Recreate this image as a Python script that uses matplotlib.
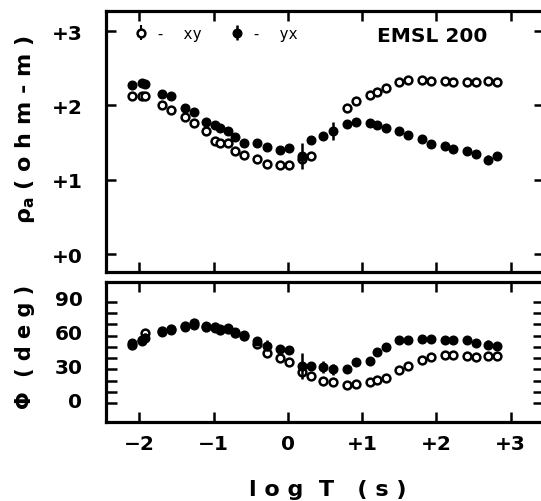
import numpy as np
import matplotlib
matplotlib.use("Agg")
import matplotlib.pyplot as plt
from matplotlib.ticker import MultipleLocator
from matplotlib.transforms import ScaledTranslation

plt.rcParams["mathtext.fontset"] = "dejavusans"
plt.rcParams["mathtext.default"] = "bf"

# log10 period (s)
log_t = [-2.10, -1.96, -1.92, -1.70, -1.58, -1.39, -1.27, -1.10, -0.98, -0.92,
         -0.81, -0.71, -0.59, -0.41, -0.28, -0.10, 0.02, 0.19, 0.31, 0.47,
         0.61, 0.80, 0.92, 1.10, 1.20, 1.32, 1.50, 1.62, 1.80, 1.93,
         2.12, 2.23, 2.41, 2.54, 2.69, 2.82]

# log10 apparent resistivity (ohm-m)
rho_xy = [2.12, 2.12, 2.12, 2.00, 1.94, 1.84, 1.76, 1.65, 1.52, 1.49,
          1.49, 1.39, 1.33, 1.28, 1.21, 1.20, 1.20, 1.28, 1.32, np.nan,
          np.nan, 1.97, 2.06, 2.14, 2.18, 2.24, 2.31, 2.34, 2.34, 2.33,
          2.33, 2.32, 2.31, 2.32, 2.33, 2.32]
rho_xy_err = [0.02] * 36
rho_yx = [2.27, 2.30, 2.29, 2.15, 2.12, 1.96, 1.91, 1.78, 1.73, 1.70,
          1.65, 1.58, 1.49, 1.49, 1.44, 1.40, 1.43, 1.32, 1.53, 1.59,
          1.66, 1.75, 1.77, 1.76, 1.73, 1.70, 1.65, 1.60, 1.55, 1.48,
          1.45, 1.41, 1.38, 1.35, 1.27, 1.32]
rho_yx_err = [0.05, 0.02, 0.02, 0.02, 0.02, 0.02, 0.02, 0.02, 0.02, 0.02,
              0.02, 0.02, 0.02, 0.02, 0.02, 0.02, 0.05, 0.18, 0.03, 0.04,
              0.12, 0.03, 0.02, 0.02, 0.02, 0.02, 0.02, 0.02, 0.02, 0.02,
              0.02, 0.02, 0.02, 0.04, 0.06, 0.02]

# impedance phase (deg)
phi_xy = [52, 56, 62, 64, 66, 69, 71, 68, 68, 65,
          66, 62, 60, 53, 45, 40, 36.5, 28, 24, 19.6,
          18.5, 16, 17, 19, 20.8, 22, 29.7, 33, 38.6, 41.3,
          42.8, 42.8, 41.6, 40.7, 41.6, 41.6]
phi_xy_err = [2] * 36
phi_yx = [53.5, 55, 58, 63, 65, 67.5, 69.5, 69, 67, 66,
          66.5, 63, 60.6, 55.5, 51, 48, 47, 33, 33, 32,
          30, 30, 36.5, 37.7, 45.7, 50, 56, 56, 57, 57,
          56, 56, 56, 53.5, 52, 51]
phi_yx_err = [3, 3, 4, 3, 3, 2, 2, 2, 2, 2,
              2, 2, 2, 3, 5, 2, 3, 12, 3, 5,
              5, 2, 2, 2, 2, 2, 2, 2, 2, 2,
              2, 2, 2, 3, 4, 2]

W, H = 541, 502
fig = plt.figure(figsize=(W / 100, H / 100), dpi=100)
ax_r = fig.add_axes([106 / W, 1 - 273 / H, 438 / W, 261 / H])
ax_p = fig.add_axes([106 / W, 1 - 423 / H, 438 / W, 140 / H])

tick_font = dict(family="DejaVu Sans", weight="bold", size=14.5)
open_kw = dict(fmt="o", ms=5.6, mfc="white", mec="black", mew=1.8,
               ecolor="black", elinewidth=1.5, capsize=0, color="black")
fill_kw = dict(fmt="o", ms=6.2, mfc="black", mec="black",
               ecolor="black", elinewidth=1.8, capsize=0, color="black")

h_xy = ax_r.errorbar(log_t, rho_xy, yerr=rho_xy_err, zorder=3, **open_kw)
h_yx = ax_r.errorbar(log_t, rho_yx, yerr=rho_yx_err, zorder=4, **fill_kw)
ax_p.errorbar(log_t, phi_xy, yerr=phi_xy_err, zorder=3, **open_kw)
ax_p.errorbar(log_t, phi_yx, yerr=phi_yx_err, zorder=4, **fill_kw)

for ax in (ax_r, ax_p):
    ax.set_xlim(-2.45, 3.45)
    ax.xaxis.set_major_locator(MultipleLocator(1))
    for s in ax.spines.values():
        s.set_linewidth(2.3)
    ax.tick_params(which="both", direction="in", top=True, right=True,
                   width=1.8, color="black")
    ax.tick_params(which="major", length=7)

ax_r.set_ylim(-0.242, 3.27)
ax_r.set_yticks([0, 1, 2, 3])
ax_r.set_yticklabels(["+0", "+1", "+2", "+3"], **tick_font)
ax_r.tick_params(axis="y", pad=17)
ax_r.tick_params(axis="x", labelbottom=False)

ax_p.set_ylim(-16.9, 107.8)
ax_p.set_yticks([0, 10, 20, 30, 40, 50, 60, 70, 80, 90])
ax_p.set_yticklabels(["0", "", "", "30", "", "", "60", "", "", "90"], **tick_font)
ax_p.tick_params(axis="y", pad=17, length=8)
# phase labels sit a little above their ticks
lift = ScaledTranslation(0, 4 / 100, fig.dpi_scale_trans)
for lab in ax_p.get_yticklabels():
    lab.set_transform(lab.get_transform() + lift)
ax_p.set_xticks([-2, -1, 0, 1, 2, 3])
ax_p.set_xticklabels(["\u22122", "\u22121", "0", "+1", "+2", "+3"], **tick_font)
ax_p.tick_params(axis="x", pad=9)

leg = ax_r.legend([h_xy, h_yx], ["-  xy", "-  yx"], ncol=2, frameon=False,
                  loc="upper left", bbox_to_anchor=(0.03, 0.995),
                  handlelength=1.0, handletextpad=0.5, columnspacing=1.8,
                  prop=dict(family="DejaVu Sans Mono", size=11))

ax_r.text(0.745, 0.905, "EMSL 200", transform=ax_r.transAxes,
          ha="center", va="center", family="DejaVu Sans", weight="bold",
          size=14.5)

label_font = dict(family="DejaVu Sans", weight="bold", size=16)
fig.text(25 / W, 1 - 130 / H, r"$\rho_{a}$ ( o h m - m )", rotation=90,
         ha="center", va="center", **label_font)
fig.text(25 / W, 1 - 347 / H, "\u03a6  ( d e g )", rotation=90,
         ha="center", va="center", family="DejaVu Sans", weight="bold",
         size=15)
fig.text(328 / W, 1 - 490 / H, "l o g  T   ( s )", ha="center",
         va="center", **label_font)

fig.savefig("out.png", dpi=100)
